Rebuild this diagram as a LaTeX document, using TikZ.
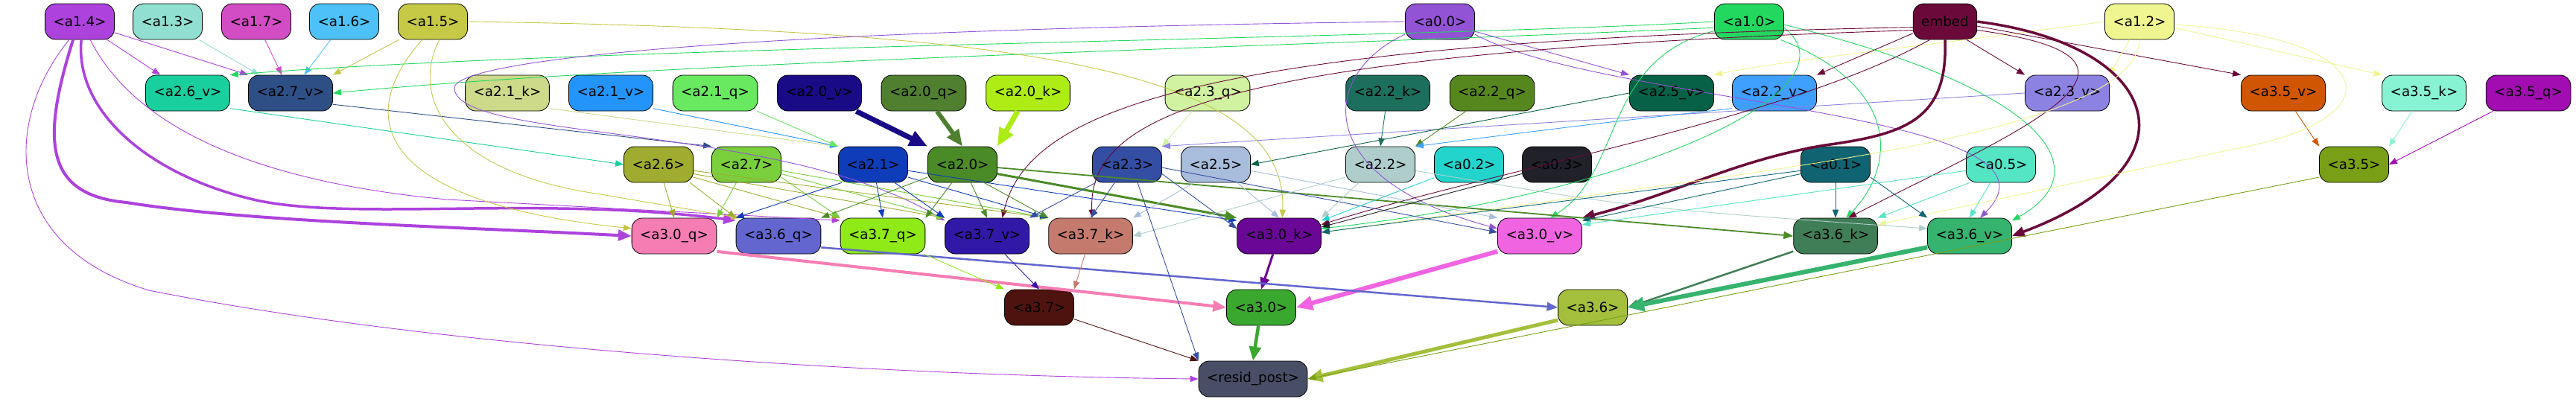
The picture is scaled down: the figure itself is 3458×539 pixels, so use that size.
\documentclass[tikz,border=0pt]{standalone}
\usepackage{fontspec}
\setmainfont{DejaVu Sans}
\usetikzlibrary{arrows.meta}

\definecolor{c14}{HTML}{AD42DD}
\definecolor{c13}{HTML}{91DFD0}
\definecolor{c17}{HTML}{D24CC3}
\definecolor{c16}{HTML}{4EC2F8}
\definecolor{c15}{HTML}{C5C946}
\definecolor{c00}{HTML}{9253D5}
\definecolor{c10}{HTML}{22D85F}
\definecolor{cemb}{HTML}{6B0A3A}
\definecolor{c12}{HTML}{EFF58F}
\definecolor{c26v}{HTML}{1ACF9E}
\definecolor{c27v}{HTML}{2D4F86}
\definecolor{c21k}{HTML}{CCDA89}
\definecolor{c21v}{HTML}{2394FA}
\definecolor{c21q}{HTML}{68E960}
\definecolor{c20v}{HTML}{190B86}
\definecolor{c20q}{HTML}{4F7F2F}
\definecolor{c20k}{HTML}{AEEC15}
\definecolor{c23q}{HTML}{D1F3A1}
\definecolor{c22k}{HTML}{1D6F5D}
\definecolor{c22q}{HTML}{56871F}
\definecolor{c25v}{HTML}{066147}
\definecolor{c22v}{HTML}{3F9FFD}
\definecolor{c23v}{HTML}{8C82E2}
\definecolor{c35v}{HTML}{D05603}
\definecolor{c35k}{HTML}{87F3D3}
\definecolor{c35q}{HTML}{A10DB0}
\definecolor{c26}{HTML}{A0AC2F}
\definecolor{c27}{HTML}{7ACF3D}
\definecolor{c21}{HTML}{0F3CB8}
\definecolor{c20}{HTML}{4B8B27}
\definecolor{c23}{HTML}{344EA3}
\definecolor{c25}{HTML}{A8BDDC}
\definecolor{c22}{HTML}{AFCECB}
\definecolor{c02}{HTML}{23D4CD}
\definecolor{c03}{HTML}{212129}
\definecolor{c01}{HTML}{106472}
\definecolor{c05}{HTML}{53E5C4}
\definecolor{c35}{HTML}{789F16}
\definecolor{c30q}{HTML}{F67DB3}
\definecolor{c36q}{HTML}{6266CE}
\definecolor{c37q}{HTML}{8FEA18}
\definecolor{c37v}{HTML}{3218A6}
\definecolor{c37k}{HTML}{C47A6D}
\definecolor{c30k}{HTML}{6A0797}
\definecolor{c30v}{HTML}{F064E1}
\definecolor{c36k}{HTML}{3F7E56}
\definecolor{c36v}{HTML}{36B36E}
\definecolor{c37}{HTML}{4F130F}
\definecolor{c30}{HTML}{3AA82F}
\definecolor{c36}{HTML}{A3BF3C}
\definecolor{crp}{HTML}{474E66}

\tikzset{
  box/.style={draw=black, line width=0.8pt, rounded corners=14pt, minimum height=48pt,
    inner xsep=11pt, inner ysep=0pt, font=\fontsize{18.3}{22}\selectfont},
}

\begin{document}
\begin{tikzpicture}[x=1pt, y=-1pt, line width=0.9pt, arrows={-Triangle[length=9pt 2.2, width=6.5pt 2]}]
	\useasboundingbox (0,0) rectangle (3458,539);
	% first row
	\node[box, fill=c14] (a14) at (107,29) {<a1.4>};
	\node[box, fill=c13] (a13) at (225,29) {<a1.3>};
	\node[box, fill=c17] (a17) at (344,29) {<a1.7>};
	\node[box, fill=c16] (a16) at (462,29) {<a1.6>};
	\node[box, fill=c15] (a15) at (581,29) {<a1.5>};
	\node[box, fill=c00] (a00) at (1933,29) {<a0.0>};
	\node[box, fill=c10] (a10) at (2348,29) {<a1.0>};
	\node[box, fill=cemb] (emb) at (2611,29) {embed};
	\node[box, fill=c12] (a12) at (2872,29) {<a1.2>};
	% second row
	\node[box, fill=c26v] (a26v) at (252,125) {<a2.6\_v>};
	\node[box, fill=c27v] (a27v) at (390,125) {<a2.7\_v>};
	\node[box, fill=c21k] (a21k) at (681,125) {<a2.1\_k>};
	\node[box, fill=c21v] (a21v) at (820,125) {<a2.1\_v>};
	\node[box, fill=c21q] (a21q) at (960,125) {<a2.1\_q>};
	\node[box, fill=c20v] (a20v) at (1100,125) {<a2.0\_v>};
	\node[box, fill=c20q] (a20q) at (1240,125) {<a2.0\_q>};
	\node[box, fill=c20k] (a20k) at (1380,125) {<a2.0\_k>};
	\node[box, fill=c23q] (a23q) at (1621,125) {<a2.3\_q>};
	\node[box, fill=c22k] (a22k) at (1863,125) {<a2.2\_k>};
	\node[box, fill=c22q] (a22q) at (2003,125) {<a2.2\_q>};
	\node[box, fill=c25v] (a25v) at (2244,125) {<a2.5\_v>};
	\node[box, fill=c22v] (a22v) at (2382,125) {<a2.2\_v>};
	\node[box, fill=c23v] (a23v) at (2775,125) {<a2.3\_v>};
	\node[box, fill=c35v] (a35v) at (3065,125) {<a3.5\_v>};
	\node[box, fill=c35k] (a35k) at (3254,125) {<a3.5\_k>};
	\node[box, fill=c35q] (a35q) at (3394,125) {<a3.5\_q>};
	% third row
	\node[box, fill=c26] (a26) at (884,221) {<a2.6>};
	\node[box, fill=c27] (a27) at (1002,221) {<a2.7>};
	\node[box, fill=c21] (a21) at (1172,221) {<a2.1>};
	\node[box, fill=c20] (a20) at (1292,221) {<a2.0>};
	\node[box, fill=c23] (a23) at (1513,221) {<a2.3>};
	\node[box, fill=c25] (a25) at (1632,221) {<a2.5>};
	\node[box, fill=c22] (a22) at (1853,221) {<a2.2>};
	\node[box, fill=c02] (a02) at (1972,221) {<a0.2>};
	\node[box, fill=c03] (a03) at (2090,221) {<a0.3>};
	\node[box, fill=c01] (a01) at (2464,221) {<a0.1>};
	\node[box, fill=c05] (a05) at (2686,221) {<a0.5>};
	\node[box, fill=c35] (a35) at (3160,221) {<a3.5>};
	% fourth row
	\node[box, fill=c30q] (a30q) at (905,317) {<a3.0\_q>};
	\node[box, fill=c36q] (a36q) at (1045,317) {<a3.6\_q>};
	\node[box, fill=c37q] (a37q) at (1185,317) {<a3.7\_q>};
	\node[box, fill=c37v] (a37v) at (1325,317) {<a3.7\_v>};
	\node[box, fill=c37k] (a37k) at (1464,317) {<a3.7\_k>};
	\node[box, fill=c30k] (a30k) at (1717,317) {<a3.0\_k>};
	\node[box, fill=c30v] (a30v) at (2067,317) {<a3.0\_v>};
	\node[box, fill=c36k] (a36k) at (2464,317) {<a3.6\_k>};
	\node[box, fill=c36v] (a36v) at (2644,317) {<a3.6\_v>};
	% heads of layer 3 and output
	\node[box, fill=c37] (a37) at (1395,413) {<a3.7>};
	\node[box, fill=c30] (a30) at (1693,413) {<a3.0>};
	\node[box, fill=c36] (a36) at (2138,413) {<a3.6>};
	\node[box, fill=crp] (rp) at (1682,509) {<resid\_post>};

	% into the second row
	\draw[c14] (a14) -- (a26v);
	\draw[c14] (a14) -- (a27v.north west);
	\draw[c13] (a13) -- (a27v);
	\draw[c17] (a17) -- (a27v);
	\draw[c16] (a16) -- (a27v);
	\draw[c15] (a15) -- (a27v.north east);
	\draw[c10] (a10.west) .. controls (1900,52) and (800,62) .. (a26v.north east);
	\draw[c10] (a10.190) .. controls (1700,64) and (900,82) .. (a27v.east);
	\draw[c00] (a00) -- (a25v.north west);
	\draw[c12] (a12.west) .. controls (2600,60) and (2400,80) .. (a25v.north east);
	\draw[cemb] (emb.200) -- (a22v.north east);
	\draw[cemb] (emb.-40) -- (a23v.north west);
	\draw[cemb] (emb.-8) -- (a35v.north west);
	\draw[c12] (a12) -- (a23v.north east);
	\draw[c12] (a12.-10) -- (a35k.north west);

	% into the third row
	\draw[c26v] (a26v.-20) -- (a26.west);
	\draw[c27v] (a27v.-15) -- (a27.north west);
	\draw[c21k] (a21k.-20) -- (a21.north west);
	\draw[c21v] (a21v.-20) -- (a21.north west);
	\draw[c21q] (a21q) -- (a21.north west);
	\draw[c20v, line width=7pt] (a20v) -- (a20.north west);
	\draw[c20q, line width=6pt] (a20q) -- (a20.north);
	\draw[c20k, line width=7pt] (a20k) -- (a20.north east);
	\draw[c23q] (a23q) -- (a23.north east);
	\draw[c23v] (a23v.west) -- (a23.north east);
	\draw[c25v] (a25v.west) -- (a25.east);
	\draw[c22k] (a22k) -- (a22.north);
	\draw[c22q] (a22q) -- (a22.north east);
	\draw[c22v] (a22v.-160) .. controls (2150,165) .. (a22.north east);
	\draw[c35v] (a35v) -- (a35.north west);
	\draw[c35k] (a35k) -- (a35.north east);
	\draw[c35q] (a35q) -- (a35.east);

	% into the fourth row
	\draw[c14, line width=4pt] (a14.250) .. controls (55,190) and (60,262) .. (170,272) .. controls (330,298) and (620,305) .. (a30q.west);
	\draw[c14, line width=3.5pt] (a14.275) .. controls (100,150) and (200,235) .. (340,268) .. controls (470,298) and (720,262) .. (a36q.160);
	\draw[c14] (a14.-60) .. controls (170,150) and (300,240) .. (600,268) -- (a37q.160);
	\draw[c15] (a15.240) .. controls (480,150) and (490,270) .. (a30q.170);
	\draw[c15] (a15.-70) .. controls (550,130) and (600,230) .. (800,260) -- (a36q.155);
	\draw[c15] (a15.east) .. controls (1400,40) and (1730,100) .. (a30k.80);
	\draw[c00] (a00.west) .. controls (1000,40) and (600,80) .. (610,120) .. controls (620,190) and (1050,165) .. (a37v.160);
	\draw[c00] (a00.200) .. controls (1770,100) and (1760,240) .. (a30v.170);
	\draw[c00] (a00.-20) .. controls (2150,140) and (2800,150) .. (a36v.60);
	\draw[c10] (a10.195) .. controls (2150,80) and (2180,230) .. (a30v.60);
	\draw[c10] (a10.-10) .. controls (2500,120) and (2200,260) .. (a30k.10);
	\draw[c10] (a10.-30) .. controls (2560,120) and (2540,230) .. (a36k.60);
	\draw[c10] (a10.-5) .. controls (2750,120) and (2820,230) .. (a36v.20);
	\draw[cemb] (emb.190) .. controls (1600,55) and (1380,150) .. (a37v.50);
	\draw[cemb] (emb.195) .. controls (1650,70) and (1460,150) .. (a37k.85);
	\draw[cemb] (emb.230) .. controls (2400,160) and (2000,230) .. (a30k.15);
	\draw[cemb, line width=3.5pt] (emb.south) .. controls (2615,160) and (2560,180) .. (2450,195) .. controls (2330,215) and (2250,260) .. (a30v.north east);
	\draw[cemb] (emb.-15) .. controls (2950,80) and (2700,180) .. (a36k.55);
	\draw[cemb, line width=3.5pt] (emb.east) .. controls (2900,60) and (2960,220) .. (a36v.east);
	\draw[c12] (a12.-5) .. controls (3200,50) and (3220,160) .. (3000,200) -- (a36k.15);
	\draw[c12] (a12.south) .. controls (2870,160) and (2500,210) .. (2300,240) -- (a30k.5);
	\draw[c26] (a26) -- (a30q.north);
	\draw[c26] (a26.-30) -- (a36q.north west);
	\draw[c26] (a26.-20) -- (a37q.north west);
	\draw[c26] (a26.-15) -- (a37v.north west);
	\draw[c26] (a26.-10) -- (a37k.north west);
	\draw[c27] (a27) -- (a30q.north east);
	\draw[c27] (a27.-20) -- (a37q.north west);
	\draw[c27] (a27.-15) -- (a37v.north west);
	\draw[c27] (a27.-10) -- (a37k.north west);
	\draw[c21] (a21.-150) -- (a36q.north west);
	\draw[c21] (a21) -- (a37q.north);
	\draw[c21] (a21.-40) -- (a37v.north west);
	\draw[c21] (a21.-20) -- (a37k.north west);
	\draw[c21] (a21.-10) -- (a30k.160);
	\draw[c20] (a20.-160) -- (a36q.north east);
	\draw[c20] (a20.-120) -- (a37q.north east);
	\draw[c20] (a20) -- (a37v.north);
	\draw[c20] (a20.-40) -- (a37k.north west);
	\draw[c20, line width=3pt] (a20.-15) -- (a30k.north west);
	\draw[c20, line width=1.8pt] (a20.-5) -- (a36k.west);
	\draw[c23] (a23.-150) -- (a37v.north east);
	\draw[c23] (a23) -- (a37k.north);
	\draw[c23] (a23.-15) -- (a30k.170);
	\draw[c23] (a23.-5) -- (a30v.175);
	\draw[c25] (a25.-140) -- (a37k.north east);
	\draw[c25] (a25) -- (a30k.north);
	\draw[c25] (a25.-10) -- (a30v.north west);
	\draw[c22] (a22.-160) -- (a37k.east);
	\draw[c22] (a22.-140) -- (a30k.north east);
	\draw[c22] (a22.-10) .. controls (2200,280) .. (a36v.170);
	\draw[c02] (a02) -- (a30k.20);
	\draw[c03] (a03) -- (a30k.12);
	\draw[c01] (a01.-170) -- (a30k.5);
	\draw[c01] (a01.-165) -- (a30v.20);
	\draw[c01] (a01) -- (a36k);
	\draw[c01] (a01.-20) -- (a36v.north west);
	\draw[c05] (a05.-170) -- (a30v.15);
	\draw[c05] (a05.-150) -- (a36k.north east);
	\draw[c05] (a05) -- (a36v.north);

	% into the heads of layer 3
	\draw[c30q, line width=4pt] (a30q.-20) -- (a30.west);
	\draw[c30k, line width=3pt] (a30k) -- (a30.north);
	\draw[c30v, line width=6pt] (a30v.-160) -- (a30.east);
	\draw[c36q, line width=2.5pt] (a36q.-15) -- (a36.west);
	\draw[c36k, line width=2.5pt] (a36k.-160) -- (a36.east);
	\draw[c36v, line width=6pt] (a36v.-165) -- (a36.east);
	\draw[c37q] (a37q) -- (a37.north west);
	\draw[c37v] (a37v) -- (a37.north);
	\draw[c37k] (a37k) -- (a37.north east);

	% into the output
	\draw[c14] (a14.240) .. controls (5,160) and (0,330) .. (200,390) .. controls (600,470) and (1200,505) .. (rp.west);
	\draw[c23] (a23.-60) -- (rp.north west);
	\draw[c37] (a37) -- (rp.north west);
	\draw[c30, line width=4.5pt] (a30) -- (rp.north);
	\draw[c36, line width=5pt] (a36.-160) -- (rp.east);
	\draw[c35] (a35.-160) -- (rp.east);
\end{tikzpicture}
\end{document}
